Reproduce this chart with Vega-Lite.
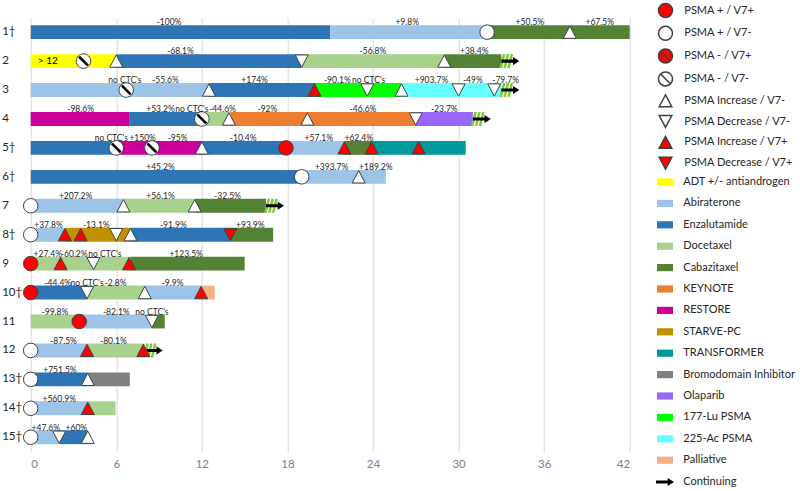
{
  "$schema": "https://vega.github.io/schema/vega-lite/v6.json",
  "width": 599,
  "height": 434,
  "autosize": "none",
  "padding": {"left": 30.7, "top": 17.7, "right": 170.3, "bottom": 39.3},
  "background": "white",
  "config": {
    "font": "Lato",
    "view": {"stroke": null},
    "axis": {"labelFont": "Lato"},
    "legend": {"labelFont": "Lato", "padding": 0}
  },
  "datasets": {
    "segments": [
      {"p": "1†", "s": 0, "e": 21, "t": "Enzalutamide"},
      {"p": "1†", "s": 21, "e": 32, "t": "Abiraterone"},
      {"p": "1†", "s": 32, "e": 42, "t": "Cabazitaxel"},
      {"p": "2", "s": 0, "e": 6, "t": "ADT +/- antiandrogen"},
      {"p": "2", "s": 6, "e": 19, "t": "Enzalutamide"},
      {"p": "2", "s": 19, "e": 29, "t": "Docetaxel"},
      {"p": "2", "s": 29, "e": 33, "t": "Cabazitaxel"},
      {"p": "3", "s": 0, "e": 12.5, "t": "Abiraterone"},
      {"p": "3", "s": 12.5, "e": 20, "t": "Enzalutamide"},
      {"p": "3", "s": 20, "e": 26, "t": "177-Lu PSMA"},
      {"p": "3", "s": 26, "e": 33, "t": "225-Ac PSMA"},
      {"p": "4", "s": 0, "e": 6.9, "t": "RESTORE"},
      {"p": "4", "s": 6.9, "e": 12, "t": "Enzalutamide"},
      {"p": "4", "s": 12, "e": 14, "t": "Docetaxel"},
      {"p": "4", "s": 14, "e": 27, "t": "KEYNOTE"},
      {"p": "4", "s": 27, "e": 31, "t": "Olaparib"},
      {"p": "5†", "s": 0, "e": 6, "t": "Enzalutamide"},
      {"p": "5†", "s": 6, "e": 12, "t": "RESTORE"},
      {"p": "5†", "s": 12, "e": 18, "t": "Enzalutamide"},
      {"p": "5†", "s": 18, "e": 22, "t": "Abiraterone"},
      {"p": "5†", "s": 22, "e": 24, "t": "Cabazitaxel"},
      {"p": "5†", "s": 24, "e": 30.5, "t": "TRANSFORMER"},
      {"p": "6†", "s": 0, "e": 19, "t": "Enzalutamide"},
      {"p": "6†", "s": 19, "e": 24.9, "t": "Abiraterone"},
      {"p": "7", "s": 0, "e": 6.5, "t": "Abiraterone"},
      {"p": "7", "s": 6.5, "e": 11.5, "t": "Docetaxel"},
      {"p": "7", "s": 11.5, "e": 16.5, "t": "Cabazitaxel"},
      {"p": "8†", "s": 0, "e": 2.4, "t": "Abiraterone"},
      {"p": "8†", "s": 2.4, "e": 7, "t": "STARVE-PC"},
      {"p": "8†", "s": 7, "e": 14, "t": "Enzalutamide"},
      {"p": "8†", "s": 14, "e": 17, "t": "Cabazitaxel"},
      {"p": "9", "s": 0, "e": 7, "t": "Docetaxel"},
      {"p": "9", "s": 7, "e": 15, "t": "Cabazitaxel"},
      {"p": "10†", "s": 0, "e": 4, "t": "Enzalutamide"},
      {"p": "10†", "s": 4, "e": 8, "t": "Docetaxel"},
      {"p": "10†", "s": 8, "e": 12, "t": "Abiraterone"},
      {"p": "10†", "s": 12, "e": 12.9, "t": "Palliative"},
      {"p": "11", "s": 0, "e": 3.5, "t": "Docetaxel"},
      {"p": "11", "s": 3.5, "e": 8.5, "t": "Abiraterone"},
      {"p": "11", "s": 8.5, "e": 9.4, "t": "Cabazitaxel"},
      {"p": "12", "s": 0, "e": 4, "t": "Abiraterone"},
      {"p": "12", "s": 4, "e": 8, "t": "Docetaxel"},
      {"p": "13†", "s": 0, "e": 4, "t": "Enzalutamide"},
      {"p": "13†", "s": 4, "e": 6.95, "t": "Bromodomain Inhibitor"},
      {"p": "14†", "s": 0, "e": 4, "t": "Abiraterone"},
      {"p": "14†", "s": 4, "e": 5.95, "t": "Docetaxel"},
      {"p": "15†", "s": 0, "e": 2, "t": "Abiraterone"},
      {"p": "15†", "s": 2, "e": 4, "t": "Enzalutamide"}
    ],
    "continuing": [
      {"p": "2", "end": 33, "k": "Continuing"},
      {"p": "3", "end": 33, "k": "Continuing"},
      {"p": "4", "end": 31, "k": "Continuing"},
      {"p": "7", "end": 16.5, "k": "Continuing"},
      {"p": "12", "end": 8, "k": "Continuing"}
    ],
    "markers": [
      {"p": "1†", "x": 32, "m": "PSMA + / V7-"},
      {"p": "1†", "x": 37.8, "m": "PSMA Increase / V7-"},
      {"p": "2", "x": 3.7, "m": "PSMA - / V7-"},
      {"p": "2", "x": 6, "m": "PSMA Increase / V7-"},
      {"p": "2", "x": 19, "m": "PSMA Decrease / V7-"},
      {"p": "2", "x": 29, "m": "PSMA Increase / V7-"},
      {"p": "3", "x": 6.7, "m": "PSMA - / V7-"},
      {"p": "3", "x": 12.5, "m": "PSMA Increase / V7-"},
      {"p": "3", "x": 19.9, "m": "PSMA Increase / V7+"},
      {"p": "3", "x": 23.6, "m": "PSMA Decrease / V7-"},
      {"p": "3", "x": 26, "m": "PSMA Increase / V7-"},
      {"p": "3", "x": 30, "m": "PSMA Decrease / V7-"},
      {"p": "3", "x": 32.5, "m": "PSMA Decrease / V7-"},
      {"p": "4", "x": 12, "m": "PSMA - / V7-"},
      {"p": "4", "x": 13.9, "m": "PSMA Increase / V7-"},
      {"p": "4", "x": 19.4, "m": "PSMA Increase / V7-"},
      {"p": "4", "x": 27, "m": "PSMA Decrease / V7-"},
      {"p": "5†", "x": 6, "m": "PSMA - / V7-"},
      {"p": "5†", "x": 8.5, "m": "PSMA - / V7-"},
      {"p": "5†", "x": 12, "m": "PSMA Increase / V7-"},
      {"p": "5†", "x": 17.9, "m": "PSMA + / V7+"},
      {"p": "5†", "x": 22, "m": "PSMA Increase / V7+"},
      {"p": "5†", "x": 23.9, "m": "PSMA Increase / V7+"},
      {"p": "5†", "x": 27.2, "m": "PSMA Increase / V7+"},
      {"p": "6†", "x": 19, "m": "PSMA + / V7-"},
      {"p": "6†", "x": 23, "m": "PSMA Increase / V7-"},
      {"p": "7", "x": 0, "m": "PSMA + / V7-"},
      {"p": "7", "x": 6.5, "m": "PSMA Increase / V7-"},
      {"p": "7", "x": 11.5, "m": "PSMA Increase / V7-"},
      {"p": "8†", "x": 0, "m": "PSMA + / V7-"},
      {"p": "8†", "x": 2.4, "m": "PSMA Increase / V7+"},
      {"p": "8†", "x": 3.5, "m": "PSMA Increase / V7+"},
      {"p": "8†", "x": 6, "m": "PSMA Decrease / V7-"},
      {"p": "8†", "x": 7, "m": "PSMA Increase / V7-"},
      {"p": "8†", "x": 14, "m": "PSMA Decrease / V7+"},
      {"p": "9", "x": 0, "m": "PSMA + / V7+"},
      {"p": "9", "x": 2.1, "m": "PSMA Increase / V7+"},
      {"p": "9", "x": 4.4, "m": "PSMA Decrease / V7-"},
      {"p": "9", "x": 6.9, "m": "PSMA Increase / V7+"},
      {"p": "10†", "x": 0, "m": "PSMA + / V7+"},
      {"p": "10†", "x": 3.95, "m": "PSMA Decrease / V7-"},
      {"p": "10†", "x": 8, "m": "PSMA Increase / V7-"},
      {"p": "10†", "x": 11.95, "m": "PSMA Increase / V7+"},
      {"p": "11", "x": 3.4, "m": "PSMA + / V7+"},
      {"p": "11", "x": 8.5, "m": "PSMA Decrease / V7-"},
      {"p": "12", "x": 0, "m": "PSMA + / V7-"},
      {"p": "12", "x": 3.95, "m": "PSMA Increase / V7+"},
      {"p": "12", "x": 7.9, "m": "PSMA Increase / V7+"},
      {"p": "13†", "x": 0, "m": "PSMA + / V7-"},
      {"p": "13†", "x": 4, "m": "PSMA Increase / V7-"},
      {"p": "14†", "x": 0, "m": "PSMA + / V7-"},
      {"p": "14†", "x": 4, "m": "PSMA Increase / V7+"},
      {"p": "15†", "x": 0, "m": "PSMA + / V7-"},
      {"p": "15†", "x": 2, "m": "PSMA Decrease / V7-"},
      {"p": "15†", "x": 4, "m": "PSMA Increase / V7-"}
    ],
    "labels": [
      {"p": "1†", "x": 9.7, "l": "-100%"},
      {"p": "1†", "x": 26.4, "l": "+9.8%"},
      {"p": "1†", "x": 35.0, "l": "+50.5%"},
      {"p": "1†", "x": 39.9, "l": "+67.5%"},
      {"p": "2", "x": 10.5, "l": "-68.1%"},
      {"p": "2", "x": 24.0, "l": "-56.8%"},
      {"p": "2", "x": 31.1, "l": "+38.4%"},
      {"p": "3", "x": 6.6, "l": "no CTC's"},
      {"p": "3", "x": 9.45, "l": "-55.6%"},
      {"p": "3", "x": 15.7, "l": "+174%"},
      {"p": "3", "x": 21.5, "l": "-90.1%"},
      {"p": "3", "x": 23.7, "l": "no CTC's"},
      {"p": "3", "x": 28.1, "l": "+903.7%"},
      {"p": "3", "x": 31.0, "l": "-49%"},
      {"p": "3", "x": 33.3, "l": "-79.7%"},
      {"p": "4", "x": 3.5, "l": "-98.6%"},
      {"p": "4", "x": 9.1, "l": "+53.2%"},
      {"p": "4", "x": 11.3, "l": "no CTC's"},
      {"p": "4", "x": 13.45, "l": "-44.6%"},
      {"p": "4", "x": 16.6, "l": "-92%"},
      {"p": "4", "x": 23.3, "l": "-46.6%"},
      {"p": "4", "x": 29.0, "l": "-23.7%"},
      {"p": "5†", "x": 5.65, "l": "no CTC's"},
      {"p": "5†", "x": 7.85, "l": "+150%"},
      {"p": "5†", "x": 10.3, "l": "-95%"},
      {"p": "5†", "x": 14.9, "l": "-10.4%"},
      {"p": "5†", "x": 20.2, "l": "+57.1%"},
      {"p": "5†", "x": 23.0, "l": "+62.4%"},
      {"p": "6†", "x": 9.1, "l": "+45.2%"},
      {"p": "6†", "x": 21.1, "l": "+393.7%"},
      {"p": "6†", "x": 24.2, "l": "+189.2%"},
      {"p": "7", "x": 3.15, "l": "+207.2%"},
      {"p": "7", "x": 9.1, "l": "+56.1%"},
      {"p": "7", "x": 13.8, "l": "-32.5%"},
      {"p": "8†", "x": 1.25, "l": "+37.8%"},
      {"p": "8†", "x": 4.6, "l": "-13.1%"},
      {"p": "8†", "x": 10.0, "l": "-91.9%"},
      {"p": "8†", "x": 15.4, "l": "+93.9%"},
      {"p": "9", "x": 1.2, "l": "+27.4%"},
      {"p": "9", "x": 3.05, "l": "-60.2%"},
      {"p": "9", "x": 5.2, "l": "no CTC's"},
      {"p": "9", "x": 10.9, "l": "+123.5%"},
      {"p": "10†", "x": 1.9, "l": "-44.4%"},
      {"p": "10†", "x": 3.95, "l": "no CTC's"},
      {"p": "10†", "x": 5.95, "l": "-2.8%"},
      {"p": "10†", "x": 9.95, "l": "-9.9%"},
      {"p": "11", "x": 1.7, "l": "-99.8%"},
      {"p": "11", "x": 6.0, "l": "-82.1%"},
      {"p": "11", "x": 8.5, "l": "no CTC's"},
      {"p": "12", "x": 2.3, "l": "-87.5%"},
      {"p": "12", "x": 5.8, "l": "-80.1%"},
      {"p": "13†", "x": 2.05, "l": "+751.5%"},
      {"p": "14†", "x": 2.0, "l": "+560.9%"},
      {"p": "15†", "x": 1.06, "l": "+47.6%"},
      {"p": "15†", "x": 3.2, "l": "+60%"}
    ],
    "notes": [
      {"p": "2", "x": 1.2, "l": "> 12"}
    ]
  },
  "encoding": {
    "y": {
      "field": "p",
      "type": "nominal",
      "scale": {
        "domain": ["1†", "2", "3", "4", "5†", "6†", "7", "8†", "9", "10†", "11", "12", "13†", "14†", "15†"],
        "paddingInner": 0,
        "paddingOuter": 0
      },
      "axis": {
        "title": null,
        "ticks": false,
        "tickSize": 0,
        "domain": false,
        "grid": false,
        "labelAlign": "left",
        "labelPadding": 29,
        "labelFontSize": 11.5,
        "labelColor": "#262626",
        "minExtent": 0
      }
    }
  },
  "layer": [
    {
      "data": {"name": "segments"},
      "mark": {"type": "bar", "height": {"band": 0.48}},
      "encoding": {
        "x": {
          "field": "s",
          "type": "quantitative",
          "scale": {"domain": [0, 42], "nice": false, "zero": false},
          "axis": {
            "title": null,
            "values": [0, 6, 12, 18, 24, 30, 36, 42],
            "grid": true,
            "gridColor": "#d9d9d9",
            "gridWidth": 1,
            "domain": false,
            "ticks": false,
            "tickSize": 0,
            "labelPadding": 7,
            "labelFontSize": 11.5,
            "labelColor": "#7f7f7f"
          }
        },
        "x2": {"field": "e"},
        "color": {
          "field": "t",
          "type": "nominal",
          "scale": {
            "domain": ["ADT +/- antiandrogen", "Abiraterone", "Enzalutamide", "Docetaxel", "Cabazitaxel", "KEYNOTE", "RESTORE", "STARVE-PC", "TRANSFORMER", "Bromodomain Inhibitor", "Olaparib", "177-Lu PSMA", "225-Ac PSMA", "Palliative"],
            "range": ["#FFFF00", "#9DC3E6", "#2E75B6", "#A9D18E", "#548235", "#ED7D31", "#CC0099", "#BF9000", "#009999", "#808080", "#9966FF", "#00FF00", "#66FFFF", "#F4B183"]
          },
          "legend": {
            "title": null,
            "orient": "none",
            "legendX": 626.3,
            "legendY": 156.3,
            "symbolType": "M-1,-0.45L1,-0.45L1,0.45L-1,0.45Z",
            "symbolSize": 256,
            "symbolStrokeWidth": 0,
            "labelFontSize": 11,
            "labelColor": "#262626",
            "labelOffset": 10.3,
            "rowPadding": 8.4,
            "padding": 0
          }
        }
      }
    },
    {
      "data": {"name": "continuing"},
      "mark": {
        "type": "point",
        "shape": "M-0.95,1L-0.45,-1M-0.4,1L0.1,-1M0.15,1L0.65,-1",
        "filled": false,
        "stroke": "#7CCB3A",
        "strokeWidth": 2.5,
        "opacity": 1,
        "size": 196,
        "xOffset": 6
      },
      "encoding": {
        "x": {"field": "end", "type": "quantitative"}
      }
    },
    {
      "data": {"name": "continuing"},
      "mark": {
        "type": "point",
        "filled": true,
        "color": "#000000",
        "opacity": 1,
        "size": 324,
        "xOffset": 9
      },
      "encoding": {
        "x": {"field": "end", "type": "quantitative"},
        "shape": {
          "field": "k",
          "type": "nominal",
          "scale": {"domain": ["Continuing"], "range": ["M-1,-0.17L0.3,-0.17L0.3,-0.45L1,0L0.3,0.45L0.3,0.17L-1,0.17Z"]},
          "legend": {
            "title": null,
            "orient": "none",
            "legendX": 625.3,
            "legendY": 455.3,
            "symbolSize": 324,
            "symbolFillColor": "#000000",
            "symbolStrokeWidth": 0,
            "labelFontSize": 11,
            "labelColor": "#262626",
            "labelOffset": 9.3,
            "padding": 0
          }
        }
      }
    },
    {
      "data": {"name": "markers"},
      "mark": {
        "type": "point",
        "filled": true,
        "opacity": 1,
        "stroke": "#404040",
        "strokeWidth": 1,
        "size": 210
      },
      "encoding": {
        "x": {"field": "x", "type": "quantitative"},
        "shape": {
          "field": "m",
          "type": "nominal",
          "scale": {
            "domain": ["PSMA + / V7+", "PSMA + / V7-", "PSMA - / V7+", "PSMA - / V7-", "PSMA Increase / V7-", "PSMA Decrease / V7-", "PSMA Increase / V7+", "PSMA Decrease / V7+"],
            "range": [
              "circle",
              "circle",
              "M1,0A1,1,0,1,1,-1,0A1,1,0,1,1,1,0ZM-0.62,-0.62L0.62,0.62",
              "M1,0A1,1,0,1,1,-1,0A1,1,0,1,1,1,0ZM-0.62,-0.62L0.62,0.62",
              "M0,-0.85L0.9,0.85L-0.9,0.85Z",
              "M0,0.85L0.9,-0.85L-0.9,-0.85Z",
              "M0,-0.85L0.9,0.85L-0.9,0.85Z",
              "M0,0.85L0.9,-0.85L-0.9,-0.85Z"
            ]
          },
          "legend": {
            "title": null,
            "orient": "none",
            "legendX": 626.8,
            "legendY": -15.2,
            "symbolSize": 196,
            "labelFontSize": 11,
            "labelColor": "#262626",
            "labelOffset": 10.8,
            "rowPadding": 2.8,
            "padding": 0,
            "encode": {"symbols": {"update": {"stroke": {"value": "#404040"}, "strokeWidth": {"value": 1.3}}}}
          }
        },
        "fill": {
          "field": "m",
          "type": "nominal",
          "scale": {
            "domain": ["PSMA + / V7+", "PSMA + / V7-", "PSMA - / V7+", "PSMA - / V7-", "PSMA Increase / V7-", "PSMA Decrease / V7-", "PSMA Increase / V7+", "PSMA Decrease / V7+"],
            "range": ["#FF0000", "#FFFFFF", "#FF0000", "#FFFFFF", "#FFFFFF", "#FFFFFF", "#FF0000", "#FF0000"]
          },
          "legend": {
            "title": null,
            "orient": "none",
            "legendX": 626.8,
            "legendY": -15.2,
            "symbolSize": 196,
            "labelFontSize": 11,
            "labelColor": "#262626",
            "labelOffset": 10.8,
            "rowPadding": 2.8,
            "padding": 0,
            "encode": {"symbols": {"update": {"stroke": {"value": "#404040"}, "strokeWidth": {"value": 1.3}}}}
          }
        }
      }
    },
    {
      "data": {"name": "markers"},
      "transform": [{"filter": "datum.m === 'PSMA - / V7-' || datum.m === 'PSMA - / V7+'"}],
      "mark": {
        "type": "point",
        "shape": "M-0.6,-0.6L0.6,0.6",
        "filled": false,
        "stroke": "#000000",
        "strokeWidth": 2.6,
        "opacity": 1,
        "size": 210
      },
      "encoding": {
        "x": {"field": "x", "type": "quantitative"}
      }
    },
    {
      "data": {"name": "labels"},
      "mark": {"type": "text", "fontSize": 8.5, "baseline": "alphabetic", "dy": -6.7, "color": "#262626"},
      "encoding": {
        "x": {"field": "x", "type": "quantitative"},
        "text": {"field": "l"}
      }
    },
    {
      "data": {"name": "notes"},
      "mark": {"type": "text", "fontSize": 10, "baseline": "middle", "color": "#000000"},
      "encoding": {
        "x": {"field": "x", "type": "quantitative"},
        "text": {"field": "l"}
      }
    }
  ],
  "resolve": {
    "scale": {"shape": "independent", "fill": "independent"},
    "legend": {"shape": "independent", "fill": "independent"}
  }
}
